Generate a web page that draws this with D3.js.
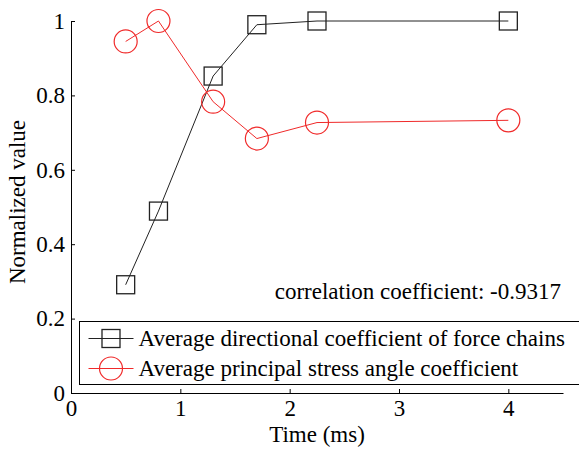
<!DOCTYPE html>
<html>
<head>
<meta charset="utf-8">
<script src="https://cdn.jsdelivr.net/npm/d3@7"></script>
<style>
    body { margin: 0; background: #fff; }
</style>
</head>
<body>
<script>
// Data
let times = [0.5, 0.8, 1.3, 1.7, 2.25, 4];
let forceChains = [0.291, 0.489, 0.852, 0.99, 1.0, 1.0];
let stressAngle = [0.945, 1.0, 0.783, 0.684, 0.727, 0.733];
let seriesNames = [
    "Average directional coefficient of force chains",
    "Average principal stress angle coefficient"
];
let xTicks = [0, 1, 2, 3, 4];
let yTicks = [0, 0.2, 0.4, 0.6, 0.8, 1];
let note = "correlation coefficient: -0.9317";

let width = 579, height = 450;
let margin = { top: 21, right: 16, bottom: 57, left: 71 };
let font = "'Liberation Serif', 'Times New Roman', 'DejaVu Serif', serif";
let fontSize = 23;

let x = d3.scaleLinear().domain([0, 4.5]).range([margin.left, width - margin.right]);
let y = d3.scaleLinear().domain([0, 1]).range([height - margin.bottom, margin.top]);

let svg = d3.select("body")
    .append("svg")
    .attr("width", width)
    .attr("height", height)
    .attr("font-family", font)
    .style("display", "block");

// Axes, ticks pointing inward
let xAxis = svg.append("g")
    .attr("transform", `translate(0, ${y(0)})`)
    .call(d3.axisBottom(x).tickValues(xTicks).tickFormat(d3.format("d")).tickSizeInner(-4).tickSizeOuter(0).tickPadding(7));

let yAxis = svg.append("g")
    .attr("transform", `translate(${x(0)}, 0)`)
    .call(d3.axisLeft(y).tickValues(yTicks).tickFormat(d => d === 0 || d === 1 ? d : d.toFixed(1)).tickSizeInner(-4).tickSizeOuter(0).tickPadding(6));

svg.selectAll("g").attr("font-family", font).attr("font-size", fontSize);
svg.selectAll(".tick text").attr("fill", "#000");
svg.selectAll(".domain, .tick line").attr("stroke", "#000");

// Axis titles
svg.append("text")
    .attr("x", (x(0) + x(4.5)) / 2)
    .attr("y", 442)
    .attr("text-anchor", "middle")
    .attr("font-size", fontSize)
    .text("Time (ms)");

svg.append("text")
    .attr("transform", "translate(25, 202) rotate(-90)")
    .attr("text-anchor", "middle")
    .attr("font-size", fontSize)
    .text("Normalized value");

let line = d3.line()
    .x(d => x(d[0]))
    .y(d => y(d[1]));

let black = "#222", red = "#f02a2a";
let side = 18, r = 11.5;

// Force chain series (squares)
let fcData = d3.zip(times, forceChains);
svg.append("path")
    .attr("d", line(fcData))
    .attr("fill", "none")
    .attr("stroke", black)
    .attr("stroke-width", 1);

svg.append("g")
    .selectAll("rect")
    .data(fcData)
    .enter()
    .append("rect")
    .attr("x", d => x(d[0]) - side / 2)
    .attr("y", d => y(d[1]) - side / 2)
    .attr("width", side)
    .attr("height", side)
    .attr("fill", "none")
    .attr("stroke", black)
    .attr("stroke-width", 1.3);

// Stress angle series (circles)
let saData = d3.zip(times, stressAngle);
svg.append("path")
    .attr("d", line(saData))
    .attr("fill", "none")
    .attr("stroke", red)
    .attr("stroke-width", 1);

svg.append("g")
    .selectAll("circle")
    .data(saData)
    .enter()
    .append("circle")
    .attr("cx", d => x(d[0]))
    .attr("cy", d => y(d[1]))
    .attr("r", r)
    .attr("fill", "none")
    .attr("stroke", red)
    .attr("stroke-width", 1.2);

// Correlation note
svg.append("text")
    .attr("x", 561)
    .attr("y", 299)
    .attr("text-anchor", "end")
    .attr("font-size", fontSize)
    .text(note);

// Legend (box runs off the right edge like the reference)
let legend = svg.append("g").attr("transform", "translate(79.5, 321.5)");
legend.append("rect")
    .attr("width", 520)
    .attr("height", 63)
    .attr("fill", "#fff")
    .attr("stroke", "#000")
    .attr("stroke-width", 1);

let rows = legend.selectAll(".row")
    .data(seriesNames)
    .enter()
    .append("g")
    .attr("class", "row")
    .attr("transform", (_, i) => `translate(0, ${17 + i * 30})`);

rows.append("line")
    .attr("x1", 9)
    .attr("x2", 54)
    .attr("stroke", (_, i) => i === 0 ? black : red)
    .attr("stroke-width", 1);

rows.filter((_, i) => i === 0)
    .append("rect")
    .attr("x", 31.5 - side / 2)
    .attr("y", -side / 2)
    .attr("width", side)
    .attr("height", side)
    .attr("fill", "none")
    .attr("stroke", black)
    .attr("stroke-width", 1.3);

rows.filter((_, i) => i === 1)
    .append("circle")
    .attr("cx", 31.5)
    .attr("r", r)
    .attr("fill", "none")
    .attr("stroke", red)
    .attr("stroke-width", 1.2);

rows.append("text")
    .attr("x", 59)
    .attr("dy", "0.33em")
    .attr("font-size", fontSize)
    .text(d => d);
</script>
</body>
</html>
